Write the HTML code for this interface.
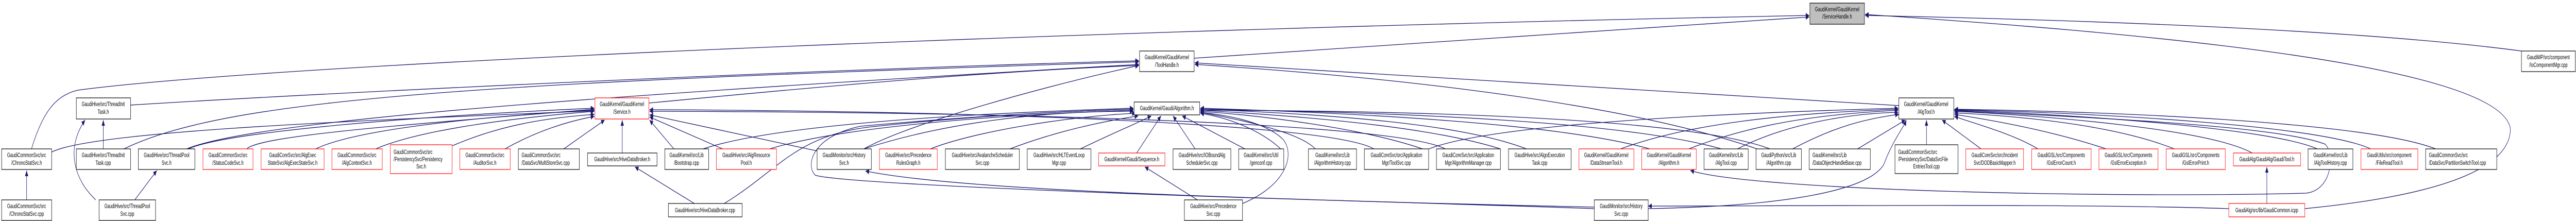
<!DOCTYPE html>
<html><head><meta charset="utf-8"><style>
html,body{margin:0;padding:0;background:#fff;width:100vw;height:100vh;overflow:hidden;}
svg{display:block;position:absolute;left:0;top:0;width:100vw;height:100vh;}
text{font-family:"Liberation Sans",sans-serif;font-size:12px;fill:#000;}
.e{fill:none;stroke:#191970;stroke-width:1.3;}
.b{fill:#fff;stroke:#000;stroke-width:1.2;}
.r{fill:#fff;stroke:#ff0000;stroke-width:1.2;}
.g{fill:#bfbfbf;stroke:#000;stroke-width:1.2;}
</style></head><body>
<svg viewBox="0 0 7932 429" preserveAspectRatio="none" xmlns="http://www.w3.org/2000/svg">
<defs><marker id="a" markerUnits="userSpaceOnUse" markerWidth="12" markerHeight="10" refX="11" refY="5" orient="auto"><path d="M0,0 L11,5 L0,10 z" fill="#191970"/></marker></defs>
<g class="e" marker-end="url(#a)">
<path d="M82,388 L82,331"/>
<path d="M97,289 C130,220 170,185 240,175 C900,120 3500,55 5571,30"/>
<path d="M160,295 C300,250 1300,230 1830,215"/>
<path d="M318,289 L318,233"/>
<path d="M382,289 C700,190 1500,160 3507,120"/>
<path d="M402,204 C1000,180 2500,135 3507,118"/>
<path d="M295,388 C230,350 200,290 262,233"/>
<path d="M415,388 L483,331"/>
<path d="M575,289 C800,230 2000,180 3507,125"/>
<path d="M580,289 C700,255 1300,225 1830,210"/>
<path d="M760,289 C800,262 1300,240 1830,212"/>
<path d="M972,289 C1100,250 1500,225 1830,214"/>
<path d="M1157,289 C1300,250 1600,228 1830,216"/>
<path d="M1393,283 C1550,240 1700,228 1830,222"/>
<path d="M1555,289 C1650,255 1750,235 1830,226"/>
<path d="M1736,289 L1862,233"/>
<path d="M1916,297 L1916,233"/>
<path d="M2075,289 L2000,233"/>
<path d="M2225,289 L2000,227"/>
<path d="M2516,293 L2000,223"/>
<path d="M2138,395 L1955,324"/>
<path d="M2230,395 C2400,330 2450,260 2700,245 C3000,225 3300,215 3490,212"/>
<path d="M2165,289 C2400,240 3000,220 3490,210"/>
<path d="M2370,289 C2600,245 3100,222 3490,214"/>
<path d="M2660,289 C2900,240 3200,215 3490,216"/>
<path d="M2660,289 C2800,240 3200,170 3507,127"/>
<path d="M2865,289 C3000,255 3300,225 3497,220"/>
<path d="M3110,289 C3250,255 3400,235 3505,225"/>
<path d="M3327,289 C3420,260 3500,240 3545,225"/>
<path d="M3500,297 L3575,225"/>
<path d="M3680,289 L3612,225"/>
<path d="M3833,289 L3640,225"/>
<path d="M3953,295 C3900,260 3800,230 3696,220"/>
<path d="M3687,388 L3525,324"/>
<path d="M3826,395 C3960,360 3990,300 3950,270 C3900,240 3800,225 3696,218"/>
<path d="M1998,200 C2500,170 3000,140 3507,127"/>
<path d="M4909,402 C4000,390 2600,360 2510,340 C2480,320 2500,265 2650,245 C3000,225 3300,215 3490,212"/>
<path d="M4909,405 C4000,385 3000,375 2665,332"/>
<path d="M4230,289 C4100,240 3000,215 2000,213"/>
<path d="M4450,289 C4300,240 3200,218 2000,216"/>
<path d="M4050,289 C4000,255 3800,230 3696,218"/>
<path d="M4380,289 C4200,250 3900,225 3696,216"/>
<path d="M4620,289 C4400,245 4000,225 3696,214"/>
<path d="M4700,289 C4500,240 4100,222 3696,212"/>
<path d="M5080,289 C4800,240 4200,220 3696,210"/>
<path d="M5300,289 C5000,235 4300,218 3696,212"/>
<path d="M5450,289 C5200,230 4400,215 3696,214"/>
<path d="M5847,205 C5000,170 4200,140 3679,122"/>
<path d="M5410,289 C5000,200 4300,150 3679,125"/>
<path d="M3677,113 C4500,80 5200,45 5571,33"/>
<path d="M4400,289 C4600,240 5300,220 5845,210"/>
<path d="M4990,289 C5200,240 5500,220 5845,212"/>
<path d="M5200,289 C5400,240 5600,222 5845,214"/>
<path d="M5350,289 C5500,240 5700,220 5845,218"/>
<path d="M5520,289 C5650,245 5750,230 5847,222"/>
<path d="M5720,289 L5867,233"/>
<path d="M5932,281 L5932,233"/>
<path d="M6100,289 L5980,233"/>
<path d="M6275,289 C6200,260 6080,240 6018,226"/>
<path d="M6485,289 C6300,250 6100,230 6018,222"/>
<path d="M6695,289 C6500,240 6200,225 6018,219"/>
<path d="M6935,297 C6800,250 6300,225 6018,216"/>
<path d="M7135,289 C7000,250 6400,222 6018,214"/>
<path d="M7300,289 C7150,245 6500,220 6018,213"/>
<path d="M7500,289 C7300,240 6600,218 6018,212"/>
<path d="M6980,395 L6980,324"/>
<path d="M7097,405 C7500,380 7730,330 7730,250 C7700,120 6500,60 5743,28"/>
<path d="M7764,99 C7300,60 6500,40 5743,30"/>
<path d="M7160,280 C7190,300 7180,370 7100,375 C6500,385 5400,370 5205,331"/>
<path d="M5075,405 C5500,400 5750,370 5800,320 C5830,270 5860,250 5870,233"/>
<path d="M6863,405 C6400,395 5500,400 5075,400"/>
<path d="M7160,280 C7000,240 6300,225 6018,215"/>
</g>
<g>
<rect class="g" x="5573" y="6" width="168" height="41"/><text x="5657" y="22" text-anchor="middle">GaudiKernel/GaudiKernel</text><text x="5657" y="36" text-anchor="middle">/ServiceHandle.h</text>
<rect class="b" x="3509" y="99" width="168" height="40"/><text x="3593" y="115" text-anchor="middle">GaudiKernel/GaudiKernel</text><text x="3593" y="130" text-anchor="middle">/ToolHandle.h</text>
<rect class="b" x="7764" y="99" width="166" height="40"/><text x="7847" y="115" text-anchor="middle">GaudiMP/src/component</text><text x="7847" y="130" text-anchor="middle">/IoComponentMgr.cpp</text>
<rect class="b" x="235" y="190" width="167" height="41"/><text x="318" y="206" text-anchor="middle">GaudiHive/src/ThreadInit</text><text x="318" y="221" text-anchor="middle">Task.h</text>
<rect class="r" x="1832" y="190" width="166" height="41"/><text x="1915" y="206" text-anchor="middle">GaudiKernel/GaudiKernel</text><text x="1915" y="221" text-anchor="middle">/Service.h</text>
<rect class="b" x="3492" y="198" width="202" height="25"/><text x="3593" y="214" text-anchor="middle">GaudiKernel/Gaudi/Algorithm.h</text>
<rect class="b" x="5847" y="190" width="169" height="41"/><text x="5931" y="206" text-anchor="middle">GaudiKernel/GaudiKernel</text><text x="5931" y="221" text-anchor="middle">/AlgTool.h</text>

<rect class="b" x="5" y="289" width="154" height="40"/><text x="82" y="305" text-anchor="middle">GaudiCommonSvc/src</text><text x="82" y="320" text-anchor="middle">/ChronoStatSvc.h</text>
<rect class="b" x="235" y="289" width="167" height="40"/><text x="318" y="305" text-anchor="middle">GaudiHive/src/ThreadInit</text><text x="318" y="320" text-anchor="middle">Task.cpp</text>
<rect class="b" x="426" y="289" width="174" height="40"/><text x="513" y="305" text-anchor="middle">GaudiHive/src/ThreadPool</text><text x="513" y="320" text-anchor="middle">Svc.h</text>
<rect class="r" x="625" y="289" width="154" height="40"/><text x="702" y="305" text-anchor="middle">GaudiCommonSvc/src</text><text x="702" y="320" text-anchor="middle">/StatusCodeSvc.h</text>
<rect class="r" x="804" y="289" width="194" height="40"/><text x="901" y="305" text-anchor="middle">GaudiCoreSvc/src/AlgExec</text><text x="901" y="320" text-anchor="middle">StateSvc/AlgExecStateSvc.h</text>
<rect class="r" x="1022" y="289" width="155" height="40"/><text x="1099" y="305" text-anchor="middle">GaudiCommonSvc/src</text><text x="1099" y="320" text-anchor="middle">/AlgContextSvc.h</text>
<rect class="r" x="1202" y="281" width="190" height="56"/><text x="1212" y="299">GaudiCommonSvc/src</text><text x="1212" y="313">/PersistencySvc/Persistency</text><text x="1297" y="327" text-anchor="middle">Svc.h</text>
<rect class="r" x="1416" y="289" width="155" height="40"/><text x="1493" y="305" text-anchor="middle">GaudiCommonSvc/src</text><text x="1493" y="320" text-anchor="middle">/AuditorSvc.h</text>
<rect class="b" x="1596" y="289" width="188" height="40"/><text x="1606" y="305">GaudiCommonSvc/src</text><text x="1606" y="320">/DataSvc/MultiStoreSvc.cpp</text>
<rect class="b" x="1809" y="297" width="214" height="25"/><text x="1916" y="313" text-anchor="middle">GaudiHive/src/HiveDataBroker.h</text>
<rect class="b" x="2047" y="289" width="135" height="40"/><text x="2114" y="305" text-anchor="middle">GaudiKernel/src/Lib</text><text x="2114" y="320" text-anchor="middle">/Bootstrap.cpp</text>
<rect class="r" x="2206" y="289" width="185" height="40"/><text x="2298" y="305" text-anchor="middle">GaudiHive/src/AlgResource</text><text x="2298" y="320" text-anchor="middle">Pool.h</text>
<rect class="b" x="2516" y="289" width="167" height="40"/><text x="2599" y="305" text-anchor="middle">GaudiMonitor/src/History</text><text x="2599" y="320" text-anchor="middle">Svc.h</text>
<rect class="r" x="2708" y="289" width="178" height="40"/><text x="2797" y="305" text-anchor="middle">GaudiHive/src/Precedence</text><text x="2797" y="320" text-anchor="middle">RulesGraph.h</text>
<rect class="b" x="2911" y="289" width="228" height="40"/><text x="3025" y="305" text-anchor="middle">GaudiHive/src/AvalancheScheduler</text><text x="3025" y="320" text-anchor="middle">Svc.cpp</text>
<rect class="b" x="3163" y="289" width="196" height="40"/><text x="3261" y="305" text-anchor="middle">GaudiHive/src/HLTEventLoop</text><text x="3261" y="320" text-anchor="middle">Mgr.cpp</text>
<rect class="r" x="3383" y="297" width="204" height="25"/><text x="3485" y="313" text-anchor="middle">GaudiKernel/Gaudi/Sequence.h</text>
<rect class="b" x="3612" y="289" width="178" height="40"/><text x="3701" y="305" text-anchor="middle">GaudiHive/src/IOBoundAlg</text><text x="3701" y="320" text-anchor="middle">SchedulerSvc.cpp</text>
<rect class="b" x="3814" y="289" width="139" height="40"/><text x="3883" y="305" text-anchor="middle">GaudiKernel/src/Util</text><text x="3883" y="320" text-anchor="middle">/genconf.cpp</text>
<rect class="b" x="4029" y="289" width="148" height="40"/><text x="4103" y="305" text-anchor="middle">GaudiKernel/src/Lib</text><text x="4103" y="320" text-anchor="middle">/AlgorithmHistory.cpp</text>
<rect class="b" x="4201" y="289" width="198" height="40"/><text x="4300" y="305" text-anchor="middle">GaudiCoreSvc/src/Application</text><text x="4300" y="320" text-anchor="middle">Mgr/ToolSvc.cpp</text>
<rect class="b" x="4423" y="289" width="197" height="40"/><text x="4521" y="305" text-anchor="middle">GaudiCoreSvc/src/Application</text><text x="4521" y="320" text-anchor="middle">Mgr/AlgorithmManager.cpp</text>
<rect class="b" x="4645" y="289" width="193" height="40"/><text x="4741" y="305" text-anchor="middle">GaudiHive/src/AlgoExecution</text><text x="4741" y="320" text-anchor="middle">Task.cpp</text>
<rect class="r" x="4862" y="289" width="169" height="40"/><text x="4946" y="305" text-anchor="middle">GaudiKernel/GaudiKernel</text><text x="4946" y="320" text-anchor="middle">/DataStreamTool.h</text>
<rect class="r" x="5055" y="289" width="168" height="40"/><text x="5139" y="305" text-anchor="middle">GaudiKernel/GaudiKernel</text><text x="5139" y="320" text-anchor="middle">/Algorithm.h</text>
<rect class="b" x="5247" y="289" width="136" height="40"/><text x="5315" y="305" text-anchor="middle">GaudiKernel/src/Lib</text><text x="5315" y="320" text-anchor="middle">/AlgTool.cpp</text>
<rect class="b" x="5407" y="289" width="140" height="40"/><text x="5477" y="305" text-anchor="middle">GaudiPython/src/Lib</text><text x="5477" y="320" text-anchor="middle">/Algorithm.cpp</text>
<rect class="b" x="5571" y="289" width="188" height="40"/><text x="5581" y="305">GaudiKernel/src/Lib</text><text x="5581" y="320">/DataObjectHandleBase.cpp</text>
<rect class="b" x="5835" y="281" width="194" height="56"/><text x="5845" y="299">GaudiCommonSvc/src</text><text x="5845" y="313">/PersistencySvc/DataSvcFile</text><text x="5932" y="327" text-anchor="middle">EntriesTool.cpp</text>
<rect class="r" x="6053" y="289" width="178" height="40"/><text x="6142" y="305" text-anchor="middle">GaudiCoreSvc/src/Incident</text><text x="6142" y="320" text-anchor="middle">Svc/DODBasicMapper.h</text>
<rect class="r" x="6256" y="289" width="183" height="40"/><text x="6347" y="305" text-anchor="middle">GaudiGSL/src/Components</text><text x="6347" y="320" text-anchor="middle">/GslErrorCount.h</text>
<rect class="r" x="6463" y="289" width="182" height="40"/><text x="6554" y="305" text-anchor="middle">GaudiGSL/src/Components</text><text x="6554" y="320" text-anchor="middle">/GslErrorException.h</text>
<rect class="r" x="6670" y="289" width="182" height="40"/><text x="6761" y="305" text-anchor="middle">GaudiGSL/src/Components</text><text x="6761" y="320" text-anchor="middle">/GslErrorPrint.h</text>
<rect class="r" x="6877" y="297" width="207" height="25"/><text x="6980" y="313" text-anchor="middle">GaudiAlg/GaudiAlg/GaudiTool.h</text>
<rect class="b" x="7107" y="289" width="138" height="40"/><text x="7176" y="305" text-anchor="middle">GaudiKernel/src/Lib</text><text x="7176" y="320" text-anchor="middle">/AlgToolHistory.cpp</text>
<rect class="r" x="7270" y="289" width="175" height="40"/><text x="7357" y="305" text-anchor="middle">GaudiUtils/src/component</text><text x="7357" y="320" text-anchor="middle">/FileReadTool.h</text>
<rect class="b" x="7469" y="289" width="219" height="40"/><text x="7479" y="305">GaudiCommonSvc/src</text><text x="7479" y="320">/DataSvc/PartitionSwitchTool.cpp</text>

<rect class="b" x="5" y="388" width="154" height="40"/><text x="82" y="404" text-anchor="middle">GaudiCommonSvc/src</text><text x="82" y="419" text-anchor="middle">/ChronoStatSvc.cpp</text>
<rect class="b" x="305" y="388" width="174" height="40"/><text x="392" y="404" text-anchor="middle">GaudiHive/src/ThreadPool</text><text x="392" y="419" text-anchor="middle">Svc.cpp</text>
<rect class="b" x="2058" y="395" width="227" height="26"/><text x="2171" y="412" text-anchor="middle">GaudiHive/src/HiveDataBroker.cpp</text>
<rect class="b" x="3647" y="388" width="179" height="40"/><text x="3736" y="404" text-anchor="middle">GaudiHive/src/Precedence</text><text x="3736" y="419" text-anchor="middle">Svc.cpp</text>
<rect class="b" x="4909" y="388" width="166" height="40"/><text x="4992" y="404" text-anchor="middle">GaudiMonitor/src/History</text><text x="4992" y="419" text-anchor="middle">Svc.cpp</text>
<rect class="r" x="6863" y="395" width="234" height="26"/><text x="6980" y="412" text-anchor="middle">GaudiAlg/src/lib/GaudiCommon.icpp</text>
</g>
</svg>
</body></html>
